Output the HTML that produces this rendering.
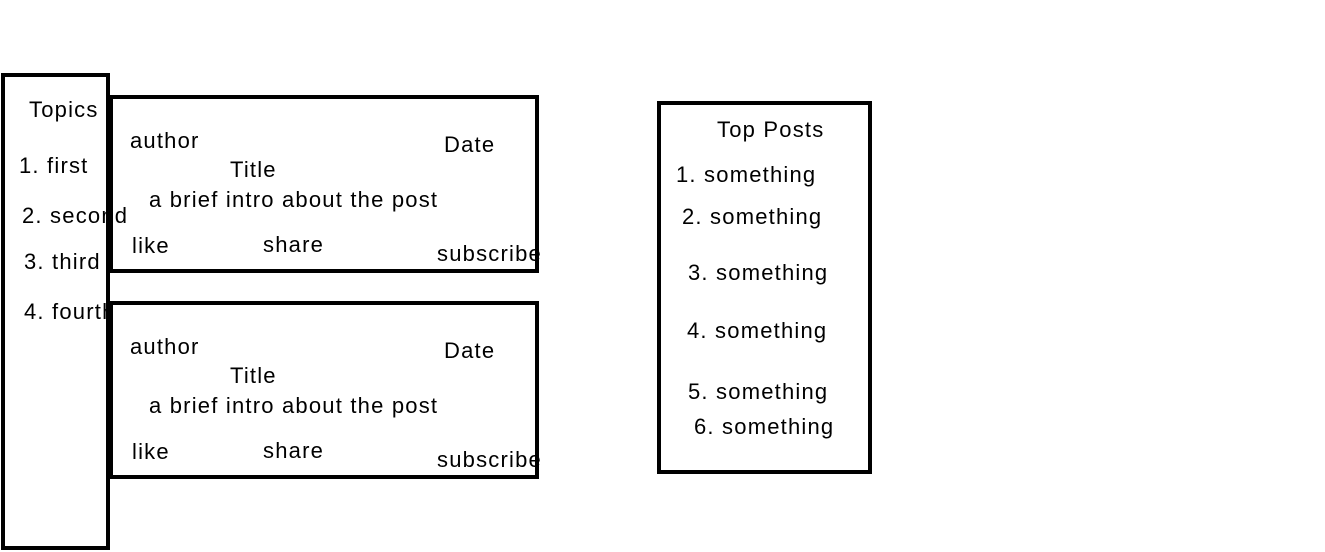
<!DOCTYPE html>
<html><head><style>
body{margin:0;width:1325px;height:552px;background:#fff;position:relative;overflow:hidden;font-family:"Liberation Sans",sans-serif;font-size:22px;letter-spacing:1.2px;color:#000}
.b{position:absolute;border:4px solid #000;box-sizing:border-box;z-index:1}
.t{position:absolute;white-space:nowrap;line-height:24px;z-index:2}
</style></head><body>
<div class="b" style="left:1px;top:73px;width:109px;height:477px"></div>
<div class="b" style="left:109px;top:95px;width:430px;height:178px"></div>
<div class="b" style="left:109px;top:301px;width:430px;height:178px"></div>
<div class="b" style="left:657px;top:101px;width:215px;height:373px"></div>

<div class="t" style="left:29px;top:98px">Topics</div>
<div class="t" style="left:19px;top:154px">1. first</div>
<div class="t" style="left:22px;top:204px">2. second</div>
<div class="t" style="left:24px;top:250px">3. third</div>
<div class="t" style="left:24px;top:300px">4. fourth</div>

<div class="t" style="left:130px;top:129px">author</div>
<div class="t" style="left:444px;top:133px">Date</div>
<div class="t" style="left:230px;top:158px">Title</div>
<div class="t" style="left:149px;top:188px">a brief intro about the post</div>
<div class="t" style="left:132px;top:234px">like</div>
<div class="t" style="left:263px;top:233px">share</div>
<div class="t" style="left:437px;top:242px">subscribe</div>

<div class="t" style="left:130px;top:335px">author</div>
<div class="t" style="left:444px;top:339px">Date</div>
<div class="t" style="left:230px;top:364px">Title</div>
<div class="t" style="left:149px;top:394px">a brief intro about the post</div>
<div class="t" style="left:132px;top:440px">like</div>
<div class="t" style="left:263px;top:439px">share</div>
<div class="t" style="left:437px;top:448px">subscribe</div>

<div class="t" style="left:717px;top:118px">Top Posts</div>
<div class="t" style="left:676px;top:163px">1. something</div>
<div class="t" style="left:682px;top:205px">2. something</div>
<div class="t" style="left:688px;top:261px">3. something</div>
<div class="t" style="left:687px;top:319px">4. something</div>
<div class="t" style="left:688px;top:380px">5. something</div>
<div class="t" style="left:694px;top:415px">6. something</div>
</body></html>
